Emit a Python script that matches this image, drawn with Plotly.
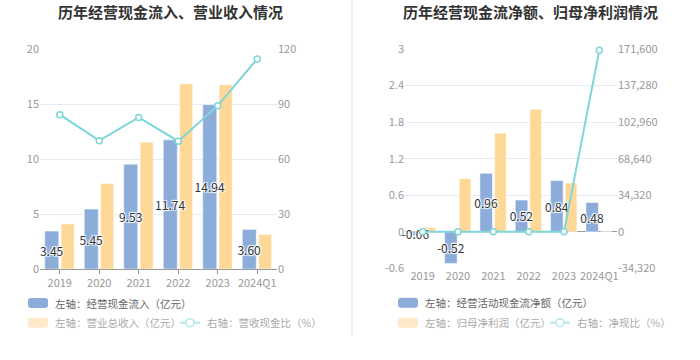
import plotly.graph_objects as go

# ---------------- data ----------------
years = ["2019", "2020", "2021", "2022", "2023", "2024Q1"]

# left chart
cash_inflow = [3.45, 5.45, 9.53, 11.74, 14.94, 3.60]        # 亿元
revenue = [4.10, 7.78, 11.52, 16.85, 16.76, 3.14]            # 亿元
cash_rev_ratio = [84.2, 70.0, 82.7, 69.7, 89.1, 114.6]       # %

# right chart
op_cash_net = [-0.06, -0.52, 0.96, 0.52, 0.84, 0.48]         # 亿元
net_profit = [0.07, 0.87, 1.62, 2.01, 0.80, 0.0003]          # 亿元
net_cash_ratio = [-85.7, -59.8, 59.3, 25.9, 105.0, 170500]   # %

left_y_ticks = [0, 5, 10, 15, 20]
left_y2_ticks = [0, 30, 60, 90, 120]
right_y_ticks = [-0.6, 0, 0.6, 1.2, 1.8, 2.4, 3]
right_y_text = ["-0.6", "0", "0.6", "1.2", "1.8", "2.4", "3"]
right_y2_ticks = [-34320, 0, 34320, 68640, 102960, 137280, 171600]
right_y2_text = ["-34,320", "0", "34,320", "68,640", "102,960", "137,280", "171,600"]

BLUE = "#8cadda"
ORANGE = "#fed897"
TEAL = "#7fd5d8"
FONT = "Noto Sans CJK SC"
W, H = 700, 360

def px(x):
    return x / W

def py(y):
    return 1 - y / H

label_font = dict(family=FONT, size=12, color="#333",
                  shadow="1px 1px 1px #fff, -1px -1px 1px #fff, 1px -1px 1px #fff, -1px 1px 1px #fff")
bar_line = dict(color="rgba(255,255,255,0.5)", width=1)

fig = go.Figure()

# ---------- left chart ----------
fig.add_trace(go.Bar(x=years, y=revenue, marker=dict(color=ORANGE, line=bar_line),
                     offset=0.035, width=0.33,
                     xaxis="x", yaxis="y", showlegend=False))
fig.add_trace(go.Bar(x=years, y=cash_inflow, marker=dict(color=BLUE, line=bar_line),
                     offset=-0.38, width=0.355,
                     text=[f"{v:.2f}" for v in cash_inflow], textposition="inside",
                     insidetextanchor="middle", constraintext="none", textangle=0,
                     textfont=label_font, xaxis="x", yaxis="y", showlegend=False, cliponaxis=False))
fig.add_trace(go.Scatter(x=years, y=cash_rev_ratio, mode="lines+markers",
                         line=dict(color=TEAL, width=2),
                         marker=dict(symbol="circle", size=6, color="white", line=dict(color=TEAL, width=1.5)),
                         xaxis="x", yaxis="y2", showlegend=False, cliponaxis=False))

# ---------- right chart ----------
fig.add_trace(go.Bar(x=years, y=net_profit, marker=dict(color=ORANGE, line=bar_line),
                     offset=0.035, width=0.33,
                     xaxis="x3", yaxis="y3", showlegend=False))
fig.add_trace(go.Bar(x=years, y=op_cash_net, marker=dict(color=BLUE, line=bar_line),
                     offset=-0.38, width=0.355,
                     text=[f"{v:.2f}" for v in op_cash_net], textposition="inside",
                     insidetextanchor="middle", constraintext="none", textangle=0,
                     textfont=label_font, xaxis="x3", yaxis="y3", showlegend=False, cliponaxis=False))
fig.add_trace(go.Scatter(x=years, y=net_cash_ratio, mode="lines+markers",
                         line=dict(color=TEAL, width=2),
                         marker=dict(symbol="circle", size=6, color="white", line=dict(color=TEAL, width=1.5)),
                         xaxis="x3", yaxis="y4", showlegend=False, cliponaxis=False))

tickfont = dict(family=FONT, size=11, color="#999")
GRID = "#e6ebf5"
ydom = [py(269), py(49)]
ydom_r = [py(268.3), py(49)]

fig.update_layout(
    width=W, height=H,
    margin=dict(l=0, r=0, t=0, b=0),
    paper_bgcolor="white", plot_bgcolor="white",
    barmode="overlay",
    font=dict(family=FONT),
    xaxis=dict(domain=[px(40), px(277)], anchor="y", type="category",
               showline=True, linecolor="#999", linewidth=1,
               ticks="outside", ticklen=4, tickcolor="#999",
               tickfont=tickfont, showgrid=False, fixedrange=True, automargin=False),
    yaxis=dict(domain=ydom, anchor="x", range=[0, 20], tickvals=left_y_ticks,
               showgrid=True, gridcolor=GRID, zeroline=False, showline=False,
               tickfont=tickfont, ticks="", fixedrange=True, automargin=False),
    yaxis2=dict(overlaying="y", anchor="x", side="right", range=[0, 120], tickvals=left_y2_ticks,
                showgrid=False, zeroline=False, tickfont=tickfont, fixedrange=True, automargin=False),
    xaxis3=dict(domain=[px(405), px(617)], anchor="y3", type="category",
                showline=False, ticks="", tickfont=tickfont, showgrid=False, fixedrange=True,
                automargin=False),
    yaxis3=dict(domain=ydom_r, anchor="x3", range=[-0.6, 3], tickvals=right_y_ticks, ticktext=right_y_text,
                showgrid=True, gridcolor=GRID, zeroline=True, zerolinecolor="#999", zerolinewidth=1,
                showline=False, tickfont=tickfont, fixedrange=True, automargin=False),
    yaxis4=dict(overlaying="y3", anchor="x3", side="right", range=[-34320, 171600], tickvals=right_y2_ticks,
                ticktext=right_y2_text, showgrid=False, zeroline=False, tickfont=tickfont,
                fixedrange=True, automargin=False),
)

shapes = []
annotations = []

# separator
shapes.append(dict(type="line", xref="paper", yref="paper", x0=px(352), x1=px(352), y0=py(0), y1=py(335),
                   line=dict(color="#f0f0f0", width=2)))

# titles
annotations.append(dict(text="<b>历年经营现金流入、营业收入情况</b>", x=px(170), y=py(12), xref="paper", yref="paper",
                        showarrow=False, xanchor="center", yanchor="middle",
                        font=dict(family=FONT, size=15, color="#333")))
annotations.append(dict(text="<b>历年经营现金流净额、归母净利润情况</b>", x=px(530), y=py(12), xref="paper", yref="paper",
                        showarrow=False, xanchor="center", yanchor="middle",
                        font=dict(family=FONT, size=15, color="#333")))

def rounded_rect(x0, y0, x1, y1, r=3):
    p = []
    p.append(f"M {px(x0 + r)} {py(y0)}")
    p.append(f"L {px(x1 - r)} {py(y0)}")
    p.append(f"Q {px(x1)} {py(y0)} {px(x1)} {py(y0 + r)}")
    p.append(f"L {px(x1)} {py(y1 - r)}")
    p.append(f"Q {px(x1)} {py(y1)} {px(x1 - r)} {py(y1)}")
    p.append(f"L {px(x0 + r)} {py(y1)}")
    p.append(f"Q {px(x0)} {py(y1)} {px(x0)} {py(y1 - r)}")
    p.append(f"L {px(x0)} {py(y0 + r)}")
    p.append(f"Q {px(x0)} {py(y0)} {px(x0 + r)} {py(y0)}")
    p.append("Z")
    return " ".join(p)

LEG_SIZE = 10.5

def legend_box(x, yc, color, label, tcolor):
    shapes.append(dict(type="path", xref="paper", yref="paper", path=rounded_rect(x, yc - 5, x + 20, yc + 5),
                       fillcolor=color, line=dict(width=0)))
    annotations.append(dict(text=label, x=px(x + 25), y=py(yc), xref="paper", yref="paper", showarrow=False,
                            xanchor="left", yanchor="middle", font=dict(family=FONT, size=LEG_SIZE, color=tcolor)))

def legend_line(x, yc, color, label, tcolor):
    shapes.append(dict(type="line", xref="paper", yref="paper", x0=px(x), x1=px(x + 20), y0=py(yc), y1=py(yc),
                       line=dict(color=color, width=2)))
    shapes.append(dict(type="circle", xref="paper", yref="paper", x0=px(x + 6), x1=px(x + 14),
                       y0=py(yc + 4), y1=py(yc - 4), fillcolor="white", line=dict(color=color, width=1.5)))
    annotations.append(dict(text=label, x=px(x + 25), y=py(yc), xref="paper", yref="paper", showarrow=False,
                            xanchor="left", yanchor="middle", font=dict(family=FONT, size=LEG_SIZE, color=tcolor)))

# left legend
legend_box(28, 303, BLUE, "左轴：经营现金流入（亿元）", "#666")
legend_box(28, 322.7, "#feeacb", "左轴：营业总收入（亿元）", "#aaa")
legend_line(180, 322.7, "#b3e8ea", "右轴：营收现金比（%）", "#aaa")

# right legend
legend_box(398, 302.7, BLUE, "左轴：经营活动现金流净额（亿元）", "#666")
legend_box(398, 322.7, "#feeacb", "左轴：归母净利润（亿元）", "#aaa")
legend_line(550, 322.7, "#b3e8ea", "右轴：净现比（%）", "#aaa")

fig.update_layout(shapes=shapes, annotations=annotations)

fig.write_html("out.html", config={"displayModeBar": False},
               post_script="document.body.style.margin='0';document.body.style.padding='0';")
